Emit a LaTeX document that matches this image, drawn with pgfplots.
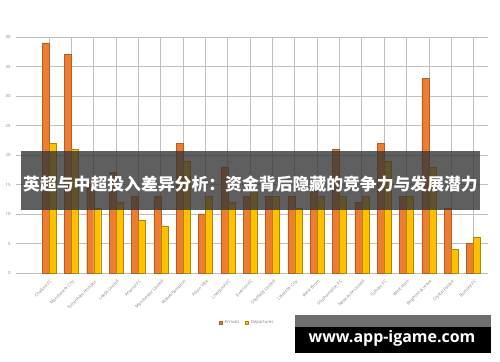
\documentclass[border=0pt]{standalone}
\usepackage{pgfplots}
\pgfplotsset{compat=1.18}
\usepackage{fontspec}
\setmainfont{Open Sans}
\newfontfamily\cjk{Noto Sans CJK SC}
\definecolor{arr}{HTML}{ED7D31}
\definecolor{dep}{HTML}{FFC000}
\definecolor{tick}{HTML}{808080}
\definecolor{grid}{HTML}{E3E3E3}
\begin{document}
\begin{tikzpicture}
\path[use as bounding box] (0,0) rectangle (500bp,362bp);
\begin{axis}[
  at={(16bp,89bp)}, anchor=south west,
  width=472bp, height=236bp, scale only axis,
  xmin=-1.48, xmax=19.65, ymin=0, ymax=40,
  ybar=0pt, bar width=7bp,
  axis line style={draw=none},
  tick style={draw=none},
  ytick={0,5,10,15,20,25,30,35,40},
  ymajorgrids, grid style={grid, line width=0.6pt},
  xtick={0,...,19},
  xticklabels={Chelsea FC,Manchester City,Tottenham Hotspur,Leeds United,Arsenal FC,Manchester United,Wolverhampton,Aston Villa,Liverpool FC,Everton FC,Sheffield United,Leicester City,West Brom,Southampton FC,Newcastle United,Fulham FC,West Ham,Brighton \& Hove,Crystal Palace,Burnley FC},
  x tick label style={rotate=45, anchor=north east, font=\fontsize{4.3}{5}\selectfont, text=tick, inner sep=1pt, yshift=-1bp},
  y tick label style={font=\fontsize{4.3}{5}\selectfont, text=tick, xshift=-2bp},
  /pgf/number format/assume math mode=true,
  legend style={at={(0.49,-0.212)}, anchor=center, draw=none, fill=none,
    font=\fontsize{4.3}{5}\selectfont, text=tick, legend columns=2,
    /tikz/every even column/.append style={column sep=4bp}},
  legend image code/.code={\fill[#1] (0bp,-1.5bp) rectangle (3bp,1.5bp);},
  clip=false,
]
\addplot[fill=arr, draw=arr!75!black, line width=0.4pt] coordinates {
(0,39) (1,37) (2,15) (3,17) (4,13) (5,13) (6,22) (7,10) (8,18) (9,13)
(10,13) (11,13) (12,14) (13,21) (14,12) (15,22) (16,13) (17,33) (18,11) (19,5)};
\addplot[fill=dep, draw=dep!70!black, line width=0.4pt] coordinates {
(0,22) (1,21) (2,11) (3,12) (4,9) (5,8) (6,19) (7,13) (8,12) (9,14)
(10,13) (11,11) (12,13) (13,13) (14,13) (15,19) (16,13) (17,18) (18,4) (19,6)};
\legend{Arrivals,Departures}
\end{axis}
% title banner
\fill[fill={rgb,255:red,55;green,55;blue,55}, fill opacity=0.8] (21bp,152bp) rectangle (480bp,211bp);
\node[text=white, font=\cjk\bfseries\fontsize{16.9}{18}\selectfont, inner sep=0pt] at (250.5bp,178bp) {英超与中超投入差异分析：资金背后隐藏的竞争力与发展潜力};
% watermark
\fill[fill={rgb,255:red,110;green,110;blue,110}] (295bp,35bp) rectangle (491bp,47bp);
\fill[black] (295bp,9bp) rectangle (491bp,35bp);
\node[text=white, font=\bfseries\fontsize{16}{18}\selectfont, inner sep=0pt] at (392bp,24bp) {www.app-igame.com};
\end{tikzpicture}
\end{document}
